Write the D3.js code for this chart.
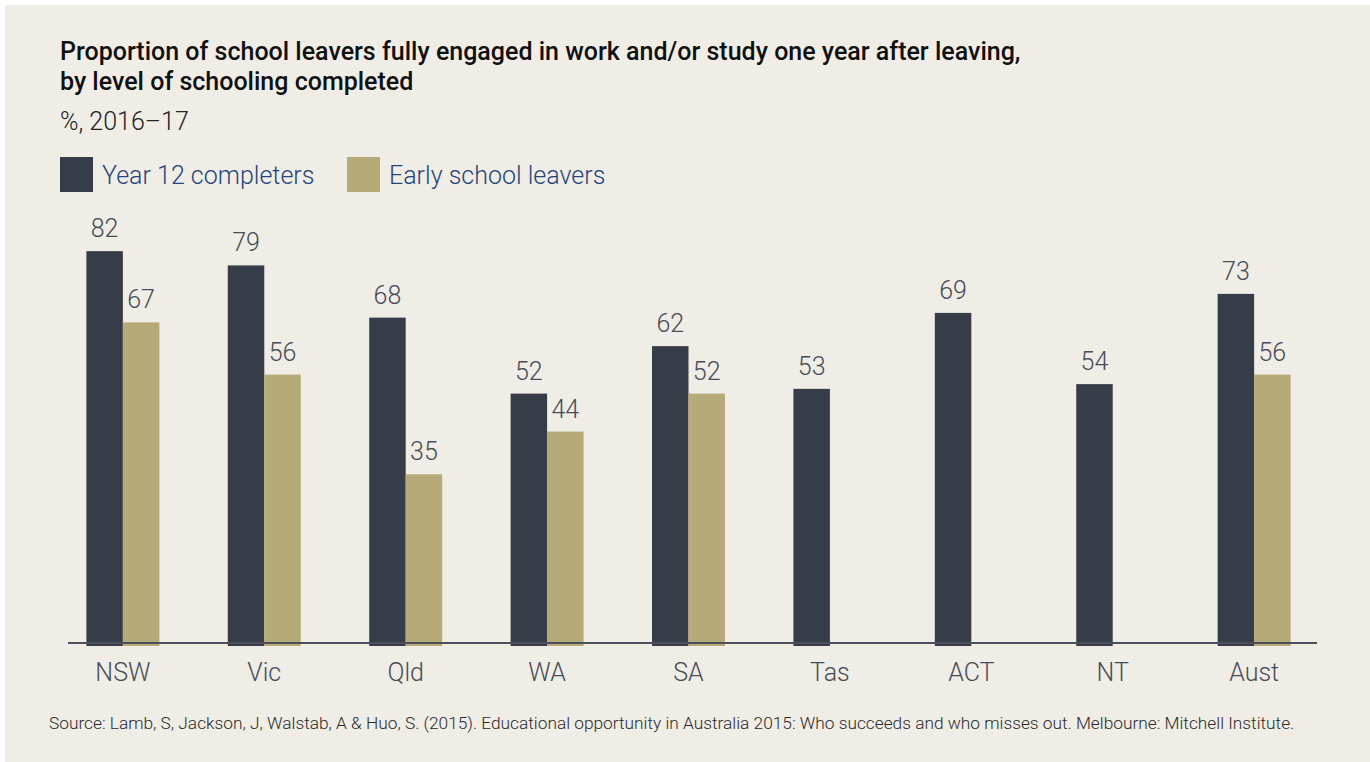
<!DOCTYPE html>
<html lang="en">
<head>
    <meta charset="UTF-8">
    <title>School leavers fully engaged</title>
    <script src="https://d3js.org/d3.v7.min.js" charset="utf-8"></script>
    <style>
        body { margin: 0; background: #ffffff; }
        svg { display: block; font-family: Roboto, 'Noto Sans', sans-serif; }
    </style>
</head>
<body>
    <div id="chart"></div>
    <script>

    // chart data
    var states = ['NSW', 'Vic', 'Qld', 'WA', 'SA', 'Tas', 'ACT', 'NT', 'Aust'];
    var seriesNames = ['Year 12 completers', 'Early school leavers'];
    var year12 = [82, 79, 68, 52, 62, 53, 69, 54, 73];
    var earlyLeavers = [67, 56, 35, 44, 52, null, null, null, 56];

    var svgWidth = 1370;
    var svgHeight = 762;
    var colors = ['#363d49', '#b6aa78'];
    var textGrey = '#474c56';
    var baseline = 643;

    var svg = d3.select('#chart')
                .append('svg')
                .attr('width', svgWidth)
                .attr('height', svgHeight);

    // panel background
    svg.append('rect')
        .attr('x', 5).attr('y', 5)
        .attr('width', svgWidth - 5).attr('height', svgHeight - 5)
        .attr('fill', '#f0ede6');

    // title and subtitle
    var title = svg.append('text')
        .attr('font-size', '25px')
        .attr('font-weight', 500)
        .attr('fill', '#111');
    title.append('tspan').attr('x', 60).attr('y', 60)
        .text('Proportion of school leavers fully engaged in work and/or study one year after leaving,');
    title.append('tspan').attr('x', 60).attr('y', 90)
        .text('by level of schooling completed');

    svg.append('text')
        .attr('x', 60).attr('y', 130)
        .attr('font-size', '25px')
        .attr('font-weight', 300)
        .attr('fill', '#222')
        .text('%, 2016\u201317');

    // legend
    var legendX = [60, 347];
    var legend = svg.selectAll('.legend')
        .data(seriesNames)
        .enter()
        .append('g')
        .attr('class', 'legend')
        .attr('transform', (d, i) => 'translate(' + legendX[i] + ', 157)');

    legend.append('rect')
        .attr('width', 33).attr('height', 35)
        .attr('fill', (d, i) => colors[i]);

    legend.append('text')
        .attr('x', 42).attr('y', 27)
        .attr('font-size', '25px')
        .attr('font-weight', 300)
        .attr('fill', '#24467a')
        .text(d => d);

    // scales
    var x_scale = d3.scaleBand()
        .domain(states)
        .range([68, 1309])
        .paddingInner(0.484)
        .paddingOuter(0.13);

    var x_inner = d3.scaleBand()
        .domain([0, 1])
        .range([0, x_scale.bandwidth()]);

    var y_scale = d3.scaleLinear()
        .domain([0, 100])
        .range([640.5, 165.7]);

    var data = [];
    states.forEach((s, i) => {
        data.push({state: s, series: 0, value: year12[i]});
        if (earlyLeavers[i] !== null) data.push({state: s, series: 1, value: earlyLeavers[i]});
    });

    // bars
    svg.selectAll('.bar')
        .data(data)
        .enter()
        .append('rect')
        .attr('class', 'bar')
        .attr('x', d => x_scale(d.state) + x_inner(d.series))
        .attr('y', d => y_scale(d.value))
        .attr('width', x_inner.bandwidth())
        .attr('height', d => baseline + 3 - y_scale(d.value))
        .attr('fill', d => colors[d.series]);

    // value labels
    svg.selectAll('.label')
        .data(data)
        .enter()
        .append('text')
        .attr('class', 'label')
        .attr('x', d => x_scale(d.state) + x_inner(d.series) + x_inner.bandwidth() / 2)
        .attr('y', d => y_scale(d.value) - 14)
        .attr('text-anchor', 'middle')
        .attr('font-size', '25px')
        .attr('font-weight', 300)
        .attr('fill', textGrey)
        .text(d => d.value);

    // x axis
    var x_axis = d3.axisBottom(x_scale).tickSize(0).tickPadding(20);
    var axisG = svg.append('g')
        .attr('transform', 'translate(0, ' + baseline + ')')
        .call(x_axis);
    axisG.select('.domain').remove();
    axisG.selectAll('text')
        .attr('font-size', '25px')
        .attr('font-weight', 300)
        .attr('font-family', 'Roboto, sans-serif')
        .attr('fill', textGrey);

    svg.append('line')
        .attr('x1', 68).attr('x2', 1317)
        .attr('y1', baseline).attr('y2', baseline)
        .attr('stroke', '#4a4f5a')
        .attr('stroke-width', 2);

    // source
    svg.append('text')
        .attr('x', 49).attr('y', 729)
        .attr('font-size', '17.3px')
        .attr('font-weight', 300)
        .attr('fill', '#2a2a2a')
        .text('Source: Lamb, S, Jackson, J, Walstab, A & Huo, S. (2015). Educational opportunity in Australia 2015: Who succeeds and who misses out. Melbourne: Mitchell Institute.');

    </script>
</body>
</html>
